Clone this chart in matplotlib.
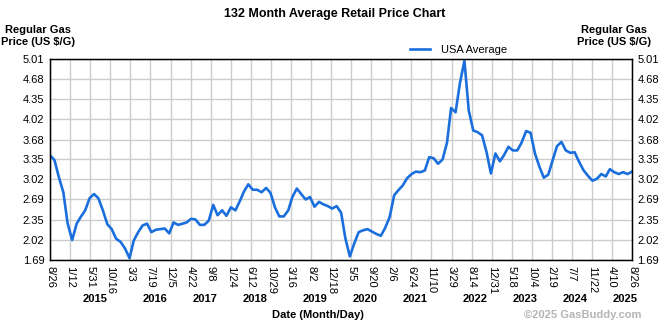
import numpy as np
import matplotlib
matplotlib.use("Agg")
import matplotlib.pyplot as plt
import matplotlib.transforms as mtransforms
import pandas as pd

plt.rcParams['font.family'] = ['Liberation Sans', 'DejaVu Sans']

# monthly USA average regular gas price, 8/26/2014 .. 8/26/2025
prices = [
    3.42, 3.34, 3.06, 2.81, 2.29, 2.02, 2.29, 2.40, 2.51, 2.71, 2.78, 2.71,
    2.51, 2.28, 2.20, 2.04, 1.99, 1.88, 1.72, 2.01, 2.15, 2.26, 2.29, 2.15,
    2.19, 2.20, 2.21, 2.13, 2.31, 2.27, 2.29, 2.31, 2.37, 2.36, 2.27, 2.27,
    2.34, 2.60, 2.43, 2.51, 2.42, 2.56, 2.51, 2.65, 2.82, 2.94, 2.85, 2.85,
    2.81, 2.88, 2.80, 2.56, 2.41, 2.41, 2.51, 2.73, 2.87, 2.78, 2.69, 2.73,
    2.57, 2.65, 2.61, 2.58, 2.54, 2.58, 2.47, 2.05, 1.75, 1.96, 2.15, 2.18,
    2.20, 2.16, 2.12, 2.09, 2.22, 2.40, 2.76, 2.84, 2.92, 3.04, 3.11, 3.15,
    3.14, 3.17, 3.39, 3.37, 3.28, 3.35, 3.63, 4.20, 4.13, 4.61, 4.98, 4.16,
    3.83, 3.80, 3.75, 3.47, 3.12, 3.45, 3.32, 3.42, 3.56, 3.50, 3.50, 3.63,
    3.82, 3.79, 3.45, 3.23, 3.05, 3.10, 3.34, 3.57, 3.64, 3.50, 3.46, 3.47,
    3.31, 3.17, 3.08, 3.00, 3.03, 3.11, 3.07, 3.19, 3.14, 3.11, 3.14, 3.11,
    3.15,
]
dates = pd.date_range("2014-08-26", "2025-08-26", freq=pd.DateOffset(months=1))

tick_dates = [
    "2014-08-26", "2015-01-12", "2015-05-31", "2015-10-16", "2016-03-03",
    "2016-07-19", "2016-12-05", "2017-04-22", "2017-09-08", "2018-01-24",
    "2018-06-12", "2018-10-29", "2019-03-16", "2019-08-02", "2019-12-18",
    "2020-05-05", "2020-09-20", "2021-02-06", "2021-06-24", "2021-11-10",
    "2022-03-29", "2022-08-14", "2022-12-31", "2023-05-18", "2023-10-04",
    "2024-02-19", "2024-07-07", "2024-11-22", "2025-04-10", "2025-08-26",
]
years = ["2015", "2016", "2017", "2018", "2019", "2020", "2021", "2022", "2023", "2024", "2025"]
year_dates = ["2015-07-03", "2016-08-20", "2017-07-31", "2018-07-11", "2019-08-30",
              "2020-08-09", "2021-07-20", "2022-09-07", "2023-08-18", "2024-07-29",
              "2025-07-09"]
y_ticks = [1.69, 2.02, 2.35, 2.69, 3.02, 3.35, 3.68, 4.02, 4.35, 4.68, 5.01]

fig = plt.figure(figsize=(6.7, 3.25), dpi=100)
ax = fig.add_axes([50 / 670, 65 / 325, 582 / 670, 201 / 325])

ax.plot(dates, prices, color='#1a6fdc', linewidth=1.9, label='USA Average',
        solid_joinstyle='round')

ticks = pd.to_datetime(tick_dates)
ax.set_xlim(ticks[0], ticks[-1])
ax.set_xticks(ticks)
ax.set_xticklabels([f"{d.month}/{d.day}" for d in ticks], rotation=270,
                   fontsize=8, va='top', ha='center')
ax.set_ylim(y_ticks[0], y_ticks[-1])
ax.set_yticks(y_ticks)
ax.set_yticklabels([f"{v:.2f}" for v in y_ticks], fontsize=8)
ax.tick_params(length=0, pad=4)
ax.grid(True, color='#cccccc', linewidth=1)
ax.set_axisbelow(True)
for s in ax.spines.values():
    s.set_linewidth(1)

ax2 = ax.twinx()
ax2.set_ylim(y_ticks[0], y_ticks[-1])
ax2.set_yticks(y_ticks)
ax2.set_yticklabels([f"{v:.2f}" for v in y_ticks], fontsize=8)
ax2.tick_params(length=0, pad=4)

# year labels under the month/day ticks
year_trans = mtransforms.blended_transform_factory(ax.transData, fig.transFigure)
for yr, d in zip(years, pd.to_datetime(year_dates)):
    ax.text(d, 1 - 299 / 325, yr, transform=year_trans,
            fontsize=8, fontweight='bold', ha='center', va='center')

fig.text(335 / 670, 1 - 14 / 325, "132 Month Average Retail Price Chart",
         fontsize=9, fontweight='bold', ha='center', va='center')
for xc in (38, 614):
    fig.text(xc / 670, 1 - 36 / 325, "Regular Gas\nPrice (US $/G)", fontsize=8,
             fontweight='bold', ha='center', va='center', multialignment='center',
             linespacing=1.3)
fig.text(318 / 670, 1 - 315 / 325, "Date (Month/Day)", fontsize=8,
         fontweight='bold', ha='center', va='center')
fig.text(642 / 670, 1 - 315 / 325, "\u00a92025 GasBuddy.com", fontsize=8,
         fontweight='bold', color='#b4b4b4', ha='right', va='center')

fig.legend(loc='center', bbox_to_anchor=(459 / 670, 1 - 50 / 325), frameon=False,
           fontsize=8, handlelength=1.8, handletextpad=1.0, borderpad=0)

fig.savefig("out.png", dpi=100)
